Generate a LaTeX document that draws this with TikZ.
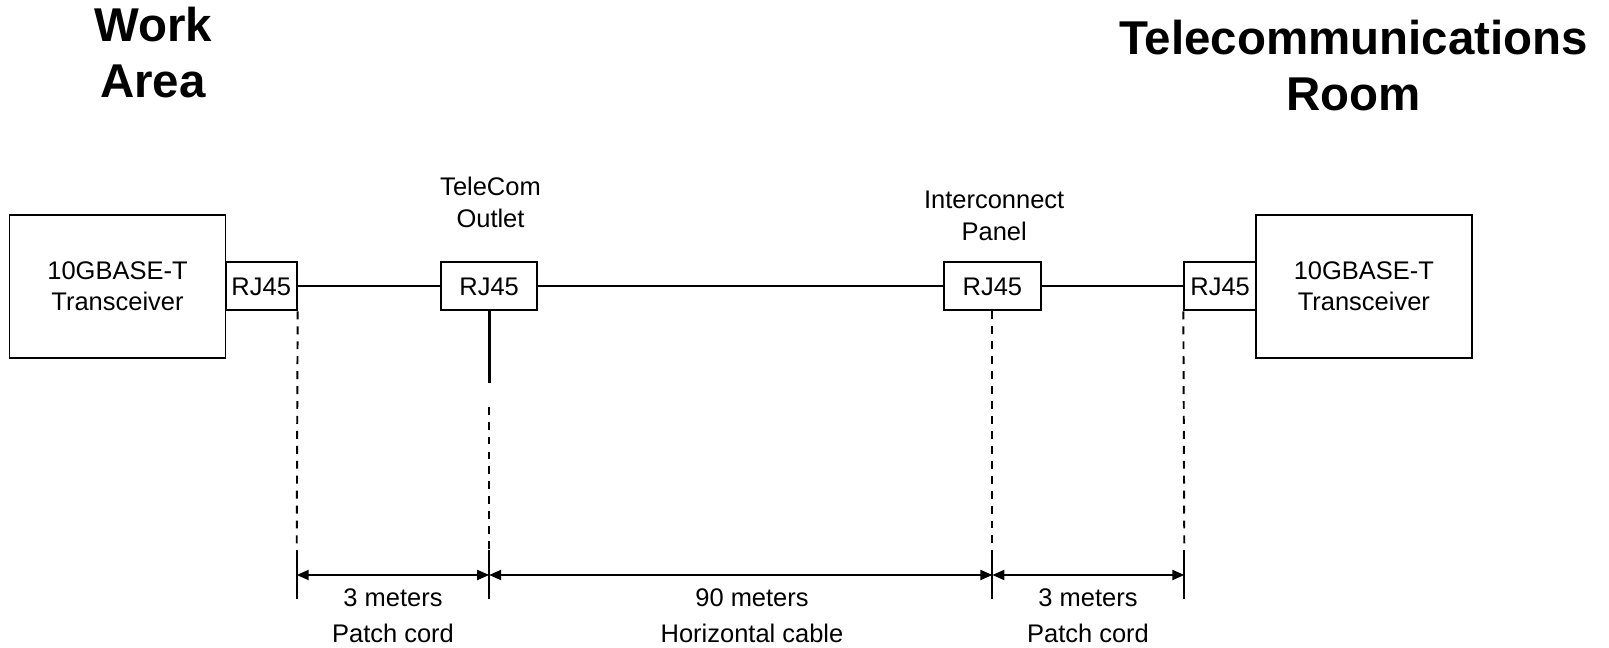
\documentclass[tikz,border=0pt]{standalone}
\usepackage{fontspec}
\setmainfont{Liberation Sans}
\usetikzlibrary{arrows.meta}
\tikzset{
  unitbox/.style={rectangle, draw=black, line width=1.1pt, align=center, inner sep=0pt, font=\fontsize{14.5}{17.5}\selectfont},
  xcvr/.style={unitbox, minimum width=4.32cm, minimum height=2.86cm},
  jack/.style={unitbox, minimum height=0.96cm},
  heading/.style={font=\fontsize{27}{32}\selectfont\bfseries, align=center, inner sep=0pt, anchor=north},
  caption/.style={font=\fontsize{14.5}{18}\selectfont, align=center, inner sep=0pt, anchor=north},
  dimtext/.style={font=\fontsize{14.5}{20.5}\selectfont, align=center, inner sep=0pt, anchor=north},
  cable/.style={line width=1.1pt, draw=black},
  stemline/.style={line width=1.7pt, draw=black},
  guide/.style={line width=1.1pt, dash pattern=on 4.5pt off 4pt},
  dimtick/.style={line width=1.1pt},
  dimension/.style={{Triangle[length=2.4mm,width=2mm]}-{Triangle[length=2.4mm,width=2mm]}, line width=1.1pt}
}
\begin{document}
\begin{tikzpicture}
\useasboundingbox (0,0) rectangle (32.18,12.96);

% Area headings.
\node[heading] (workarea) at (3.06,12.82) {Work\\Area};
\node[heading] (telroom) at (27.07,12.56) {Telecommunications\\Room};

% Equipment and jacks.
\node[xcvr] (leftxcvr) at (2.35,7.237) {10GBASE-T\\Transceiver};
\node[jack, minimum width=1.42cm] (leftjack) at (5.224,7.231) {RJ45};
\node[jack, minimum width=1.93cm] (outlet) at (9.783,7.231) {RJ45};
\node[jack, minimum width=1.93cm] (panel) at (19.847,7.231) {RJ45};
\node[jack, minimum width=1.434cm] (rightjack) at (24.403,7.231) {RJ45};
\node[xcvr] (rightxcvr) at (27.277,7.237) {10GBASE-T\\Transceiver};

\node[caption] (outletlab) at (9.81,9.426) {TeleCom\\Outlet};
\node[caption] (panellab) at (19.884,9.146) {Interconnect\\Panel};

% Cabling.
\draw[cable] (leftjack.east) -- (outlet.west);
\draw[cable] (outlet.east) -- (panel.west);
\draw[cable] (panel.east) -- (rightjack.west);
\coordinate (stemend) at (9.783,5.30);
\draw[stemline] (outlet.south) -- (stemend);

% Dimension points.
\coordinate (dimA) at (5.934,1.46);
\coordinate (dimB) at (9.783,1.46);
\coordinate (dimC) at (19.847,1.46);
\coordinate (dimD) at (23.686,1.46);
\coordinate (outletguide) at (9.783,4.826);

\draw[guide] (leftjack.south east) -- ([yshift=0.5cm]dimA);
\draw[guide] (outletguide) -- ([yshift=0.5cm]dimB);
\draw[guide] (panel.south) -- ([yshift=0.5cm]dimC);
\draw[guide] (rightjack.south west) -- ([yshift=0.5cm]dimD);

\foreach \c in {dimA,dimB,dimC,dimD} {
  \draw[dimtick] ([yshift=0.5cm]\c) -- ([yshift=-0.48cm]\c);
}

\draw[dimension] (dimA) -- (dimB);
\draw[dimension] (dimB) -- (dimC);
\draw[dimension] (dimC) -- (dimD);

\node[dimtext] (cordleft) at (7.86,1.194) {3 meters\\Patch cord};
\node[dimtext] (horizcable) at (15.04,1.194) {90 meters\\Horizontal cable};
\node[dimtext] (cordright) at (21.76,1.194) {3 meters\\Patch cord};

\end{tikzpicture}
\end{document}
